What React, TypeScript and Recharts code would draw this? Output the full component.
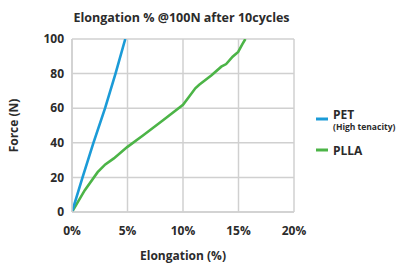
import React from "react";
import { LineChart, Line, XAxis, YAxis, CartesianGrid, Label } from "recharts";

const title = "Elongation % @100N after 10cycles";
const xTicks = [0, 5, 10, 15, 20];
const yTicks = [0, 20, 40, 60, 80, 100];

const petElong = [0, 0.95, 1.93, 2.98, 3.92, 4.8];
const petForce = [0, 20, 40, 60, 80, 100];

const pllaElong = [0, 1.14, 2.31, 3.0, 3.77, 4.97, 6.45, 8.2, 10, 10.53, 11.11, 11.46, 12.57, 13.45, 13.89, 14.47, 14.97, 15.35, 15.62];
const pllaForce = [0, 12.5, 23, 27.5, 31, 37.5, 44.5, 53, 62, 66.5, 71.5, 73.5, 79, 84, 85.5, 89.8, 92.5, 97, 100];

const seriesNames = ["PET", "PLLA"];
const petSub = "(High tenacity)";

const BLUE = "#1b9bd7";
const GREEN = "#4cb447";
const FONT = "'Open Sans', sans-serif";
const TEXT = "#2b2b2b";
const FS = 12;

const petData = petElong.map((e, i) => ({ elong: e, force: petForce[i] }));
const pllaData = pllaElong.map((e, i) => ({ elong: e, force: pllaForce[i] }));

export default function App() {
  return (
    <div style={{ position: "absolute", left: 0, top: 0, width: 407, height: 263, fontFamily: FONT, background: "#fff" }}>
      <div style={{ position: "absolute", left: 0, width: 363, top: 9, textAlign: "center", fontWeight: 700, fontSize: 12.5, color: TEXT, lineHeight: "18px" }}>
        {title}
      </div>
      <LineChart width={407} height={263} margin={{ top: 39, right: 113, bottom: 0, left: 0 }} style={{ position: "absolute", left: 0, top: 0 }}>
        <CartesianGrid stroke="#d0d0d0" strokeWidth={1.5} />
        <XAxis
          type="number"
          dataKey="elong"
          domain={[0, 20]}
          ticks={xTicks}
          tickFormatter={(v) => `${v}%`}
          height={51}
          axisLine={{ stroke: "#d0d0d0", strokeWidth: 1.5 }}
          tickLine={false}
          tickMargin={8}
          tick={{ fill: TEXT, fontSize: FS, fontWeight: 700, fontFamily: FONT }}
          allowDataOverflow
        >
          <Label value="Elongation (%)" position="insideBottom" offset={3} style={{ fill: TEXT, fontSize: FS, fontWeight: 700, fontFamily: FONT }} />
        </XAxis>
        <YAxis
          type="number"
          domain={[0, 100]}
          ticks={yTicks}
          width={72}
          axisLine={{ stroke: "#d0d0d0", strokeWidth: 1.5 }}
          tickLine={false}
          tick={{ fill: TEXT, fontSize: FS, fontWeight: 700, fontFamily: FONT }}
          allowDataOverflow
        >
          <Label value="Force (N)" angle={-90} position="insideLeft" offset={14} style={{ fill: TEXT, fontSize: FS, fontWeight: 700, fontFamily: FONT, textAnchor: "middle" }} />
        </YAxis>
        <Line data={pllaData} dataKey="force" type="linear" stroke={GREEN} strokeWidth={2.6} dot={false} isAnimationActive={false} />
        <Line data={petData} dataKey="force" type="linear" stroke={BLUE} strokeWidth={2.6} dot={false} isAnimationActive={false} />
      </LineChart>
      <svg width={100} height={70} style={{ position: "absolute", left: 310, top: 105 }}>
        <line x1={6} x2={18} y1={14} y2={14} stroke={BLUE} strokeWidth={3} />
        <text x={23} y={13.5} fontSize={FS} fontWeight={700} fill={TEXT} fontFamily={FONT}>{seriesNames[0]}</text>
        <text x={23} y={25} fontSize={8.5} fontWeight={700} fill={TEXT} fontFamily={FONT}>{petSub}</text>
        <line x1={6} x2={18} y1={45} y2={45} stroke={GREEN} strokeWidth={3} />
        <text x={23} y={50} fontSize={FS} fontWeight={700} fill={TEXT} fontFamily={FONT}>{seriesNames[1]}</text>
      </svg>
    </div>
  );
}
